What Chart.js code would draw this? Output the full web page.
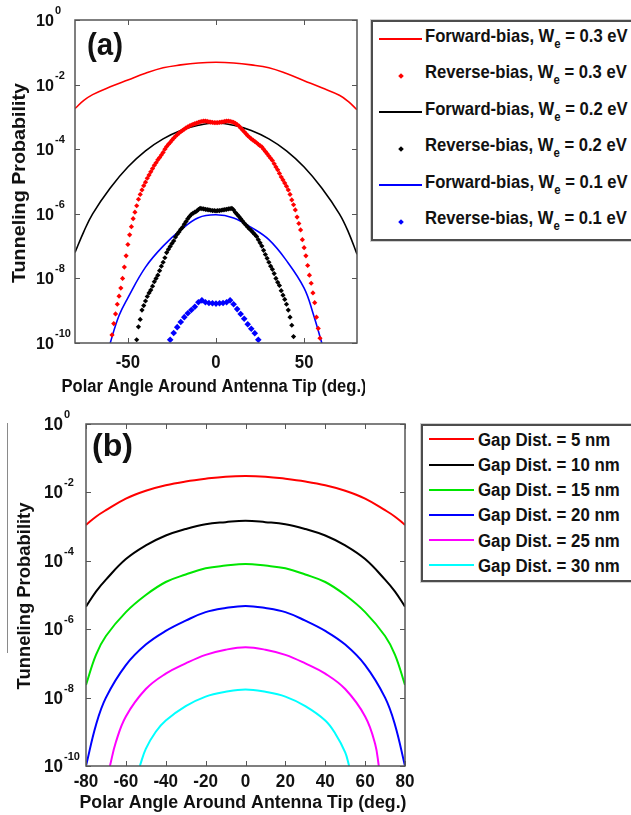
<!DOCTYPE html>
<html>
<head>
<meta charset="utf-8">
<title>Tunneling probability vs polar angle</title>
<script src="https://cdn.jsdelivr.net/npm/chart.js@4.4.1/dist/chart.umd.min.js"></script>
<style>
  html, body { margin: 0; padding: 0; background: #fff; }
  body { position: relative; width: 631px; height: 815px; overflow: hidden; font-family: "Liberation Sans", Arial, sans-serif; }
  canvas { position: absolute; left: 0; }
  #chartA { top: 0; }
  #chartB { top: 400px; }
  .legend { position: absolute; background: #fff; border: 2px solid #4d4d4d; box-shadow: 0 0 0 1px #d0d0d0; }
  #legendA { left: 371px; top: 20px; width: 300px; height: 217px; }
  #legendB { left: 421px; top: 424px; width: 250px; height: 154px; }
  .sample { position: absolute; height: 2px; }
  .dot { position: absolute; width: 4px; height: 4px; transform: rotate(45deg); }
  .txt { position: absolute; white-space: nowrap; font-weight: bold; color: #111; line-height: 24px; transform-origin: 0 50%; }
  .txt sub { font-size: 13px; line-height: 0; vertical-align: baseline; position: relative; top: 6px; }
  #scrap { position: absolute; left: 7px; top: 423px; width: 1px; height: 230px; background: #8a8a8a; }
</style>
</head>
<body>
<canvas id="chartA" width="365" height="400"></canvas>
<canvas id="chartB" width="415" height="415"></canvas>
<div id="legendA" class="legend"></div>
<div id="legendB" class="legend"></div>
<div id="scrap"></div>
<script>
// all y values are log10(probability)
function span(a, b, s) { const r = []; for (let v = a; v <= b; v += s) r.push(v); return r; }

// ---- panel (a) ----
const fwdAnglesA = [-80, -75, -70, -60, -50, -40, -30, -20, -10, 0, 10, 20, 30, 40, 50, 60, 70, 75, 80];
const fwd03 = [-2.74, -2.49, -2.31, -2.07, -1.86, -1.65, -1.48, -1.39, -1.33, -1.31, -1.33, -1.39, -1.48, -1.66, -1.88, -2.1, -2.33, -2.52, -2.78];
const fwd02 = [-7.2, -6.55, -6.0, -5.2, -4.55, -4.05, -3.68, -3.42, -3.26, -3.19, -3.26, -3.42, -3.68, -4.05, -4.55, -5.2, -6.0, -6.55, -7.25];
const fwd01Angles = [-61, -60, -55, -50, -40, -30, -20, -10, 0, 10, 20, 30, 40, 50, 55, 60, 61];
const fwd01 = [-10.25, -10.0, -9.15, -8.6, -7.65, -7.0, -6.5, -6.12, -6.03, -6.13, -6.42, -6.8, -7.45, -8.3, -9.07, -10.0, -10.25];

const rev03Angles = span(-60, 60, 1);
const rev03 = [
  -10.1, -9.75, -9.4, -9.1, -8.8, -8.55, -8.3, -8.0, -7.65, -7.3,
  -6.95, -6.65, -6.4, -6.15, -5.95, -5.75, -5.55, -5.4, -5.26, -5.13,
  -5.02, -4.9, -4.8, -4.7, -4.6, -4.5, -4.42, -4.33, -4.26, -4.18,
  -4.1, -4.0, -3.92, -3.85, -3.79, -3.72, -3.66, -3.6, -3.55, -3.5,
  -3.46, -3.42, -3.38, -3.34, -3.31, -3.28, -3.25, -3.23, -3.21, -3.19,
  -3.17, -3.15, -3.14, -3.13, -3.13, -3.14, -3.15, -3.16, -3.17, -3.18,
  -3.18,
  -3.18, -3.17, -3.16, -3.15, -3.14, -3.13, -3.13, -3.14, -3.15, -3.17,
  -3.2, -3.24, -3.28, -3.34, -3.4, -3.46, -3.52, -3.58, -3.63, -3.68,
  -3.72, -3.76, -3.8, -3.85, -3.89, -3.93, -4.0, -4.07, -4.14, -4.21,
  -4.28, -4.35, -4.45, -4.55, -4.64, -4.75, -4.86, -4.95, -5.05, -5.15,
  -5.26, -5.4, -5.57, -5.72, -5.88, -6.1, -6.3, -6.5, -6.8, -7.05,
  -7.3, -7.6, -7.9, -8.15, -8.45, -8.75, -9.2, -9.55, -9.85, -10.15
];
const rev02Angles = span(-45, 45, 1);
const rev02 = [
  -9.9, -9.5, -9.27, -8.98, -8.84, -8.7, -8.56, -8.45, -8.36, -8.24,
  -8.1, -8.0, -7.9, -7.76, -7.62, -7.5, -7.36, -7.2, -7.1, -7.01,
  -6.92, -6.84, -6.72, -6.63, -6.56, -6.48, -6.42, -6.32, -6.24, -6.15,
  -6.08, -6.02, -5.98, -5.95, -5.92, -5.87, -5.83, -5.84, -5.85, -5.86,
  -5.87, -5.88, -5.89, -5.9, -5.9,
  -5.91,
  -5.9, -5.9, -5.89, -5.88, -5.87, -5.86, -5.85, -5.84, -5.83, -5.88,
  -5.96, -6.02, -6.08, -6.15, -6.22, -6.29, -6.35, -6.41, -6.47, -6.52,
  -6.58, -6.64, -6.7, -6.8, -6.9, -7.0, -7.13, -7.26, -7.38, -7.5,
  -7.62, -7.72, -7.85, -8.0, -8.12, -8.22, -8.38, -8.52, -8.65, -8.8,
  -8.98, -9.2, -9.45, -9.8, -10.2
];
const rev01Angles = span(-26, 26, 2);
const rev01 = [-9.9, -9.69, -9.51, -9.35, -9.2, -9.08, -8.98, -8.88, -8.74, -8.68, -8.74, -8.76, -8.77, -8.78,
  -8.77, -8.76, -8.74, -8.68, -8.8, -8.95, -9.1, -9.25, -9.42, -9.56, -9.7, -9.9, -10.1];

const biasNames = ['Forward-bias', 'Reverse-bias', 'Forward-bias', 'Reverse-bias', 'Forward-bias', 'Reverse-bias'];
const workFns = ['0.3', '0.3', '0.2', '0.2', '0.1', '0.1'];
const colorsA = ['#ff0000', '#ff0000', '#000000', '#000000', '#0000ff', '#0000ff'];

// ---- panel (b) ----
const gapAngles = [-80, -75, -70, -60, -50, -40, -30, -20, -10, 0, 10, 20, 30, 40, 50, 60, 70, 75, 80];
const gap5 = [-2.95, -2.71, -2.52, -2.18, -1.95, -1.79, -1.68, -1.6, -1.54, -1.52, -1.54, -1.6, -1.68, -1.79, -1.95, -2.18, -2.52, -2.71, -2.95];
const gap10 = [-5.34, -4.9, -4.55, -3.95, -3.55, -3.26, -3.07, -2.93, -2.87, -2.83, -2.87, -2.93, -3.07, -3.26, -3.55, -3.95, -4.55, -4.9, -5.34];
const gap15 = [-7.63, -6.75, -6.2, -5.5, -5.0, -4.62, -4.4, -4.22, -4.14, -4.09, -4.14, -4.22, -4.4, -4.62, -5.0, -5.5, -6.2, -6.75, -7.63];
const gap20 = [-10.0, -8.8, -8.0, -7.05, -6.45, -6.05, -5.75, -5.5, -5.38, -5.32, -5.38, -5.5, -5.75, -6.05, -6.45, -7.05, -8.0, -8.8, -10.0];
const gap25Angles = [-68, -65, -60, -50, -40, -30, -20, -10, 0, 10, 20, 30, 40, 50, 60, 65, 67];
const gap25 = [-10.0, -9.3, -8.55, -7.75, -7.3, -7.0, -6.75, -6.6, -6.53, -6.6, -6.75, -7.0, -7.3, -7.75, -8.55, -9.35, -10.05];
const gap30Angles = [-53, -50, -45, -40, -30, -20, -10, 0, 10, 20, 30, 40, 45, 50, 52];
const gap30 = [-10.0, -9.5, -9.0, -8.67, -8.25, -7.97, -7.83, -7.76, -7.83, -7.97, -8.25, -8.67, -9.05, -9.6, -10.0];
const gapLabels = ['Gap Dist. = 5 nm', 'Gap Dist. = 10 nm', 'Gap Dist. = 15 nm', 'Gap Dist. = 20 nm', 'Gap Dist. = 25 nm', 'Gap Dist. = 30 nm'];
const colorsB = ['#ff0000', '#000000', '#00e600', '#0000ff', '#ff00ff', '#00ffff'];

// axis ticks
const yTickExps = [0, -2, -4, -6, -8, -10];
const xTicksA = [-50, 0, 50];
const xTicksB = [-80, -60, -40, -20, 0, 20, 40, 60, 80];

const FONT = '"Liberation Sans", Arial, sans-serif';

function pts(xs, exps) { return xs.map((x, i) => ({ x: x, y: Math.pow(10, exps[i]) })); }

function lineSet(label, xs, exps, color, w) {
  return { label: label, data: pts(xs, exps), borderColor: color, backgroundColor: color, borderWidth: w,
    pointRadius: 0, tension: 0.4, fill: false };
}
function dotSet(label, xs, exps, color, r) {
  return { label: label, data: pts(xs, exps), showLine: false, pointStyle: 'rectRot', pointRadius: r,
    pointBorderWidth: 0, pointBackgroundColor: color, borderColor: color, backgroundColor: color };
}

function drawText(ctx, text, x, y, size, sx, align, rot) {
  ctx.save();
  ctx.font = 'bold ' + size + 'px ' + FONT;
  ctx.translate(x, y);
  if (rot) ctx.rotate(rot);
  ctx.scale(sx, 1);
  ctx.textAlign = align;
  ctx.textBaseline = 'alphabetic';
  ctx.fillText(text, 0, 0);
  const w = ctx.measureText(text).width * sx;
  ctx.restore();
  return w;
}
function fitText(ctx, text, x, y, size, width, align, rot) {
  ctx.save();
  ctx.font = 'bold ' + size + 'px ' + FONT;
  const sx = width / ctx.measureText(text).width;
  ctx.restore();
  drawText(ctx, text, x, y, size, sx, align, rot);
}

function framePlugin(c) {
  return {
    id: 'frame' + c.name,
    afterDraw(chart) {
      const ctx = chart.ctx, a = chart.chartArea, xs = chart.scales.x, ys = chart.scales.y;
      ctx.save();
      ctx.strokeStyle = '#555';
      ctx.lineWidth = 1.5;
      ctx.strokeRect(a.left, a.top, a.right - a.left, a.bottom - a.top);
      ctx.lineWidth = 1;
      ctx.beginPath();
      yTickExps.forEach(e => {
        const py = Math.round(ys.getPixelForValue(Math.pow(10, e))) + 0.5;
        ctx.moveTo(a.left, py); ctx.lineTo(a.left + 5, py);
        ctx.moveTo(a.right, py); ctx.lineTo(a.right - 5, py);
      });
      c.xTicks.forEach(v => {
        const px = Math.round(xs.getPixelForValue(v)) + 0.5;
        ctx.moveTo(px, a.bottom); ctx.lineTo(px, a.bottom - 5);
        ctx.moveTo(px, a.top); ctx.lineTo(px, a.top + 5);
      });
      ctx.stroke();
      ctx.fillStyle = '#111';
      yTickExps.forEach(e => {
        const py = ys.getPixelForValue(Math.pow(10, e));
        const w = drawText(ctx, '10', c.yLabX, py + 6, c.yLabSize, 0.95, 'left');
        drawText(ctx, String(e), c.yLabX + w + 1, py - 6, 11, 1, 'left');
      });
      c.xTicks.forEach(v => {
        drawText(ctx, String(v), xs.getPixelForValue(v), c.xLabBase, 18, c.xLabSx, 'center');
      });
      fitText(ctx, 'Polar Angle Around Antenna Tip (deg.)', c.xTitleX, c.xTitleBase, 18, c.xTitleW, 'center');
      fitText(ctx, 'Tunneling Probability', c.yTitleBase, c.yTitleY, 18, c.yTitleW, 'center', -Math.PI / 2);
      fitText(ctx, c.panel, c.panelX, c.panelBase, 32, c.panelW, 'left');
      ctx.restore();
    }
  };
}

function makeChart(id, datasets, c) {
  return new Chart(document.getElementById(id), {
    type: 'line',
    data: { datasets: datasets },
    options: {
      responsive: false,
      devicePixelRatio: 1,
      animation: false,
      events: [],
      layout: { padding: { top: c.padTop, right: c.padRight, left: 0, bottom: 0 } },
      plugins: { legend: { display: false }, tooltip: { enabled: false } },
      scales: {
        x: {
          type: 'linear', min: -80, max: 80,
          ticks: { display: false }, grid: { display: false }, border: { display: false },
          afterFit: s => { s.height = c.xAxisH; }
        },
        y: {
          type: 'logarithmic', min: 1e-10, max: 1,
          ticks: { display: false }, grid: { display: false }, border: { display: false },
          afterFit: s => { s.width = c.yAxisW; }
        }
      }
    },
    plugins: [framePlugin(c)]
  });
}

const labelsA = biasNames.map((n, i) => n + ', We = ' + workFns[i] + ' eV');
makeChart('chartA', [
  lineSet(labelsA[0], fwdAnglesA, fwd03, colorsA[0], 1.6),
  dotSet(labelsA[1], rev03Angles, rev03, colorsA[1], 2.6),
  lineSet(labelsA[2], fwdAnglesA, fwd02, colorsA[2], 1.6),
  dotSet(labelsA[3], rev02Angles, rev02, colorsA[3], 2.6),
  lineSet(labelsA[4], fwd01Angles, fwd01, colorsA[4], 1.6),
  dotSet(labelsA[5], rev01Angles, rev01, colorsA[5], 3.3)
], {
  name: 'A', padTop: 20, padRight: 8, xAxisH: 57, yAxisW: 75, xTicks: xTicksA,
  yLabX: 36, yLabSize: 17, xLabBase: 368, xLabSx: 0.93,
  xTitleX: 214, xTitleBase: 392, xTitleW: 305,
  yTitleBase: 25, yTitleY: 183, yTitleW: 200,
  panel: '(a)', panelX: 87, panelBase: 55, panelW: 36
});

makeChart('chartB', [
  lineSet(gapLabels[0], gapAngles, gap5, colorsB[0], 2),
  lineSet(gapLabels[1], gapAngles, gap10, colorsB[1], 2),
  lineSet(gapLabels[2], gapAngles, gap15, colorsB[2], 2),
  lineSet(gapLabels[3], gapAngles, gap20, colorsB[3], 2),
  lineSet(gapLabels[4], gap25Angles, gap25, colorsB[4], 2),
  lineSet(gapLabels[5], gap30Angles, gap30, colorsB[5], 2)
], {
  name: 'B', padTop: 24, padRight: 10, xAxisH: 49, yAxisW: 86, xTicks: xTicksB,
  yLabX: 44, yLabSize: 18, xLabBase: 387, xLabSx: 0.95,
  xTitleX: 243, xTitleBase: 408, xTitleW: 327,
  yTitleBase: 30, yTitleY: 196, yTitleW: 187,
  panel: '(b)', panelX: 92, panelBase: 56, panelW: 41
});

// legends (HTML so the subscript stays real text)
const legA = document.getElementById('legendA');
biasNames.forEach((n, i) => {
  const base = 20.5 + i * 36.5;
  const isLine = n.startsWith('Forward');
  const mark = document.createElement('div');
  if (isLine) {
    mark.className = 'sample';
    Object.assign(mark.style, { left: '6px', width: '43px', top: (base - 4.5) + 'px', background: colorsA[i] });
  } else {
    mark.className = 'dot';
    Object.assign(mark.style, { left: '26px', top: (base - 5.5) + 'px', background: colorsA[i] });
  }
  legA.appendChild(mark);
  const t = document.createElement('div');
  t.className = 'txt';
  t.innerHTML = n + ', W<sub>e</sub> = ' + workFns[i] + ' eV';
  Object.assign(t.style, { left: '52px', top: (base - 18.6) + 'px', fontSize: '19px', transform: 'scaleX(0.875)' });
  legA.appendChild(t);
});

const legB = document.getElementById('legendB');
gapLabels.forEach((lab, i) => {
  const base = 20 + i * 25.2;
  const mark = document.createElement('div');
  mark.className = 'sample';
  Object.assign(mark.style, { left: '6px', width: '45px', top: (base - 7.7) + 'px', background: colorsB[i] });
  legB.appendChild(mark);
  const t = document.createElement('div');
  t.className = 'txt';
  t.textContent = lab;
  Object.assign(t.style, { left: '55px', top: (base - 18.25) + 'px', fontSize: '18px', transform: 'scaleX(0.935)' });
  legB.appendChild(t);
});
</script>
</body>
</html>
